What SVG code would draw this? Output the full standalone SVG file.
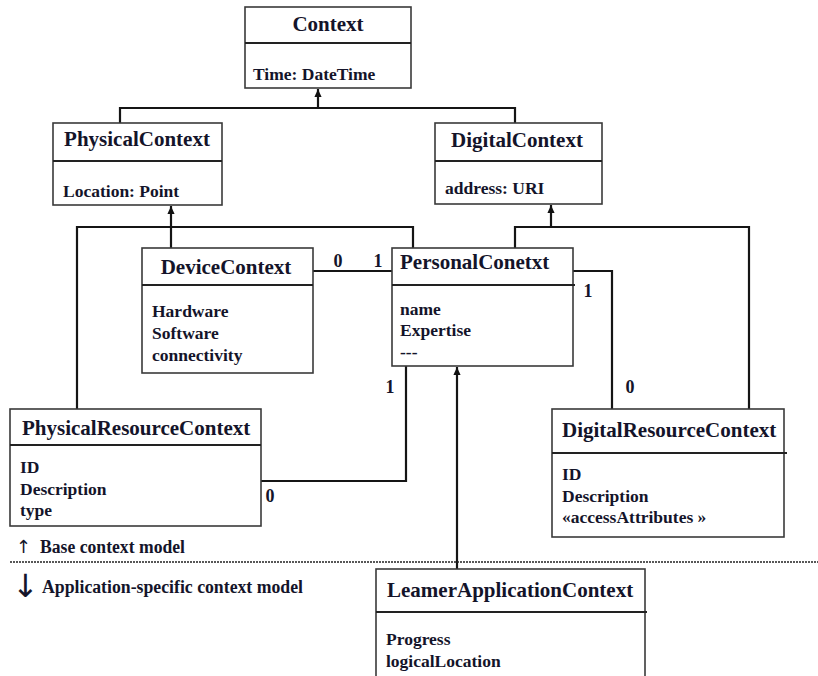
<svg xmlns="http://www.w3.org/2000/svg" width="818" height="676" viewBox="0 0 818 676">
<style>
.bg{fill:#fff}
.box{fill:#fff;stroke:#3a3a3a;stroke-width:1.6}
.dv{stroke:#222;stroke-width:2.2}
.t{font-family:"Liberation Serif","Times New Roman",serif;fill:#14142a}
.title{font-weight:bold;font-size:21px}
.attr{font-weight:bold;font-size:17.5px}
.lbl{font-weight:bold;font-size:18px}
.conn{stroke:#151515;stroke-width:2.2;fill:none}
.arr{font-family:"DejaVu Sans",sans-serif;fill:#14142a}
</style>
<defs>
<marker id="tri" markerUnits="userSpaceOnUse" markerWidth="8" markerHeight="10" refX="9" refY="4" orient="auto" viewBox="0 0 9 8">
<path d="M0,0 L9,4 L0,8 z" fill="#111"/>
</marker>
</defs>
<rect class="bg" x="0" y="0" width="818" height="676"/>

<g id="connectors">
<path class="conn" d="M120 123 V108 H515 V123"/>
<path class="conn" d="M318 108 V89" marker-end="url(#tri)"/>
<path class="conn" d="M77 409 V227 H413 V248"/>
<path class="conn" d="M171 248 V206" marker-end="url(#tri)"/>
<path class="conn" d="M515 248 V227 H749 V409"/>
<path class="conn" d="M551 227 V205" marker-end="url(#tri)"/>
<path class="conn" d="M313 271 H392"/>
<path class="conn" d="M573 271 H612 V409"/>
<path class="conn" d="M406 366 V481 H261"/>
<path class="conn" d="M457 569 V367" marker-end="url(#tri)"/>
<text class="t lbl" x="338" y="267" text-anchor="middle">0</text>
<text class="t lbl" x="378" y="267" text-anchor="middle">1</text>
<text class="t lbl" x="588" y="297" text-anchor="middle">1</text>
<text class="t lbl" x="630" y="393" text-anchor="middle">0</text>
<text class="t lbl" x="390" y="393" text-anchor="middle">1</text>
<text class="t lbl" x="270" y="502" text-anchor="middle">0</text>
</g>

<g id="Context">
<rect class="box" x="245" y="7" width="166" height="81"/>
<line class="dv" x1="245" y1="43" x2="411" y2="43"/>
<text class="t title" x="328" y="31" text-anchor="middle">Context</text>
<text class="t attr" x="253" y="80">Time: DateTime</text>
</g>

<g id="PhysicalContext">
<rect class="box" x="53" y="123" width="169" height="82"/>
<line class="dv" x1="53" y1="161" x2="222" y2="161"/>
<text class="t title" x="137" y="146" text-anchor="middle">PhysicalContext</text>
<text class="t attr" x="63" y="197">Location: Point</text>
</g>

<g id="DigitalContext">
<rect class="box" x="435" y="123" width="167" height="81"/>
<line class="dv" x1="435" y1="161" x2="602" y2="161"/>
<text class="t title" x="517" y="147" text-anchor="middle">DigitalContext</text>
<text class="t attr" x="445" y="194">address: URI</text>
</g>

<g id="DeviceContext">
<rect class="box" x="142" y="248" width="171" height="125"/>
<line class="dv" x1="142" y1="285" x2="313" y2="285"/>
<text class="t title" x="226" y="274" text-anchor="middle">DeviceContext</text>
<text class="t attr" x="152" y="317">Hardware</text>
<text class="t attr" x="152" y="339">Software</text>
<text class="t attr" x="152" y="361">connectivity</text>
</g>

<g id="PersonalConetxt">
<rect class="box" x="392" y="248" width="181" height="118"/>
<line class="dv" x1="392" y1="285" x2="575" y2="285"/>
<text class="t title" x="400" y="269">PersonalConetxt</text>
<text class="t attr" x="400" y="315">name</text>
<text class="t attr" x="400" y="336">Expertise</text>
<text class="t attr" x="400" y="358">---</text>
</g>

<g id="PhysicalResourceContext">
<rect class="box" x="10" y="409" width="251" height="117"/>
<line class="dv" x1="10" y1="445" x2="261" y2="445"/>
<text class="t title" x="22" y="435">PhysicalResourceContext</text>
<text class="t attr" x="20" y="473">ID</text>
<text class="t attr" x="20" y="495">Description</text>
<text class="t attr" x="20" y="516">type</text>
</g>

<g id="DigitalResourceContext">
<rect class="box" x="552" y="409" width="232" height="128"/>
<line class="dv" x1="552" y1="453" x2="787" y2="453"/>
<text class="t title" x="562" y="437">DigitalResourceContext</text>
<text class="t attr" x="562" y="480">ID</text>
<text class="t attr" x="562" y="502">Description</text>
<text class="t attr" x="562" y="523">«accessAttributes »</text>
</g>

<g id="LeamerApplicationContext">
<rect class="box" x="376" y="569" width="269" height="120"/>
<line class="dv" x1="376" y1="612" x2="647" y2="612"/>
<text class="t title" x="387" y="597">LeamerApplicationContext</text>
<text class="t attr" x="386" y="645">Progress</text>
<text class="t attr" x="386" y="667">logicalLocation</text>
</g>

<g id="legend">
<line x1="10" y1="562" x2="818" y2="562" stroke="#222" stroke-width="1.6" stroke-dasharray="2 1"/>
<text class="arr" x="16" y="553" font-size="18">↑</text>
<text class="t lbl" x="40" y="553" textLength="145" lengthAdjust="spacingAndGlyphs">Base context model</text>
<text class="arr" x="12" y="597" font-size="32">↓</text>
<text class="t" x="42" y="593" font-size="18" font-weight="bold" textLength="261" lengthAdjust="spacingAndGlyphs">Application-specific context model</text>
</g>
</svg>
